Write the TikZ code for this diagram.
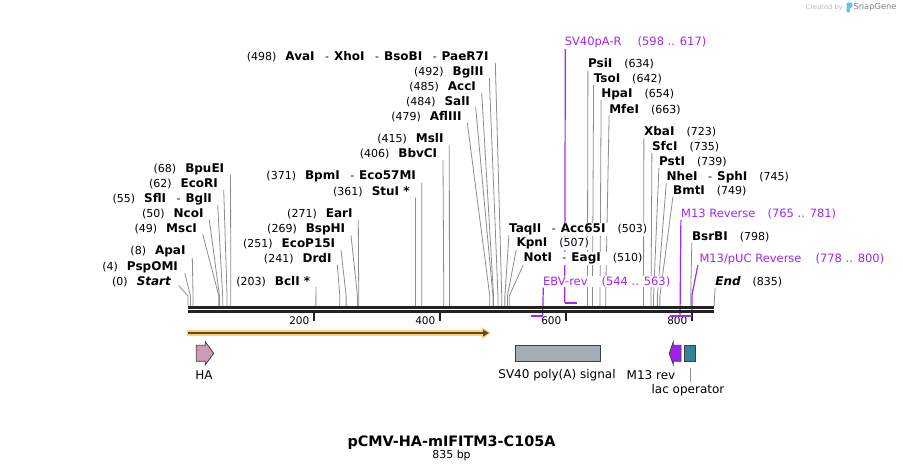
\documentclass[tikz,border=0pt]{standalone}
\usepackage{fontspec}
\setmainfont{DejaVu Sans}
\usetikzlibrary{calc,backgrounds}

\definecolor{sitegray}{RGB}{140,140,140}
\definecolor{backbone}{RGB}{34,34,34}
\definecolor{oligopurple}{RGB}{160,40,240}
\definecolor{hapink}{RGB}{204,155,182}
\definecolor{polyagray}{RGB}{166,172,179}
\definecolor{m13purple}{RGB}{160,32,240}
\definecolor{lacteal}{RGB}{46,132,153}
\definecolor{featedge}{RGB}{64,64,64}
\definecolor{orflight}{RGB}{253,208,125}
\definecolor{orfdark}{RGB}{92,74,46}
\definecolor{credgray}{RGB}{185,185,185}
\definecolor{snapblue}{RGB}{110,190,230}

% enzyme names are set a little larger than the positions
\newcommand{\enz}[1]{{\fontsize{12}{13}\selectfont\bfseries #1}}
\newcommand{\orsep}{\hspace{10.5pt}-\hspace{5pt}}

\begin{document}
\begin{tikzpicture}[x=1pt, y=-1pt, font=\fontsize{11}{13}\selectfont,
    enzl/.style={inner sep=0.6pt, fill=white, anchor=east},
    enzr/.style={inner sep=0.6pt, fill=white, anchor=west},
    cut/.style={draw=sitegray, line width=0.8pt},
    oligo/.style={inner sep=0.6pt, fill=white, anchor=west, text=oligopurple,
      font=\fontsize{11.5}{13}\selectfont},
    oligoline/.style={draw=oligopurple, line width=1.2pt},
    oligobar/.style={draw=oligopurple, line width=2pt},
    feat/.style={draw=featedge, line width=0.8pt},
    featlbl/.style={inner sep=0pt, font=\fontsize{12}{14}\selectfont},
    tick/.style={draw=backbone, line width=1.8pt},
    ticklbl/.style={inner sep=0pt, anchor=east, font=\fontsize{10.5}{12}\selectfont}]

  \useasboundingbox (0,0) rectangle (903,472);

  % ---- enzyme labels, left of their lines
  \node[enzl] (start) at (171.7,281.7) {(0)\hspace{9pt}\enz{\itshape Start}};
  \node[enzl] (pspomi) at (178.7,267) {(4)\hspace{9pt}\enz{PspOMI}};
  \node[enzl] (apai) at (186.3,251.7) {(8)\hspace{9pt}\enz{ApaI}};
  \node[enzl] (msci) at (197.7,229.3) {(49)\hspace{9pt}\enz{MscI}};
  \node[enzl] (ncoi) at (204.3,213.7) {(50)\hspace{9pt}\enz{NcoI}};
  \node[enzl] (sfli) at (212.7,199) {(55)\hspace{9pt}\enz{SflI}\orsep\enz{BglI}};
  \node[enzl] (ecori) at (218.7,183.7) {(62)\hspace{9pt}\enz{EcoRI}};
  \node[enzl] (bpuei) at (225,169) {(68)\hspace{9pt}\enz{BpuEI}};
  \node[enzl] (bcli) at (311,281.7) {(203)\hspace{9pt}\enz{BclI *}};
  \node[enzl] (drdi) at (332.3,258.7) {(241)\hspace{9pt}\enz{DrdI}};
  \node[enzl] (ecop15i) at (336,244) {(251)\hspace{9pt}\enz{EcoP15I}};
  \node[enzl] (bsphi) at (346,229.3) {(269)\hspace{9pt}\enz{BspHI}};
  \node[enzl] (eari) at (353.3,213.7) {(271)\hspace{9pt}\enz{EarI}};
  \node[enzl] (stui) at (410.4,191.7) {(361)\hspace{9pt}\enz{StuI *}};
  \node[enzl] (bpmi) at (416.7,176.7) {(371)\hspace{9pt}\enz{BpmI}\orsep\enz{Eco57MI}};
  \node[enzl] (bbvci) at (438,154) {(406)\hspace{9pt}\enz{BbvCI}};
  \node[enzl] (msli) at (444.3,139) {(415)\hspace{9pt}\enz{MslI}};
  \node[enzl] (afliii) at (462.3,116.7) {(479)\hspace{9pt}\enz{AflIII}};
  \node[enzl] (sali) at (470.7,101.7) {(484)\hspace{9pt}\enz{SalI}};
  \node[enzl] (acci) at (476.7,86.7) {(485)\hspace{9pt}\enz{AccI}};
  \node[enzl] (bglii) at (484.3,72) {(492)\hspace{9pt}\enz{BglII}};
  \node[enzl] (avai) at (489.3,56.7) {(498)\hspace{9pt}\enz{AvaI}\orsep\enz{XhoI}\orsep\enz{BsoBI}\orsep\enz{PaeR7I}};

  % ---- enzyme labels, right of their lines
  \node[enzr] (taqii) at (508.3,229.3) {\enz{TaqII}\orsep\enz{Acc65I}\hspace{12pt}(503)};
  \node[enzr] (kpni) at (515.7,243.3) {\enz{KpnI}\hspace{12pt}(507)};
  \node[enzr] (noti) at (522.7,258.7) {\enz{NotI}\orsep\enz{EagI}\hspace{12pt}(510)};
  \node[enzr] (psii) at (587.3,64) {\enz{PsiI}\hspace{12pt}(634)};
  \node[enzr] (tsoi) at (593,79) {\enz{TsoI}\hspace{12pt}(642)};
  \node[enzr] (hpai) at (600.5,94) {\enz{HpaI}\hspace{12pt}(654)};
  \node[enzr] (mfei) at (608.5,109.3) {\enz{MfeI}\hspace{12pt}(663)};
  \node[enzr] (xbai) at (643.3,132) {\enz{XbaI}\hspace{12pt}(723)};
  \node[enzr] (sfci) at (651.3,146.7) {\enz{SfcI}\hspace{12pt}(735)};
  \node[enzr] (psti) at (658.3,162) {\enz{PstI}\hspace{12pt}(739)};
  \node[enzr] (nhei) at (665.7,176.7) {\enz{NheI}\orsep\enz{SphI}\hspace{12pt}(745)};
  \node[enzr] (bmti) at (672.3,191) {\enz{BmtI}\hspace{12pt}(749)};
  \node[enzr] (bsrbi) at (691.2,236.7) {\enz{BsrBI}\hspace{12pt}(798)};
  \node[enzr] (finish) at (714.5,282) {\enz{\itshape End}\hspace{12pt}(835)};

  % ---- primer labels
  \node[oligo] (sv40par) at (564,42.7) {SV40pA-R\hspace{16pt}(598 .. 617)};
  \node[oligo] (ebvrev) at (542.3,281.7) {EBV-rev\hspace{14pt}(544 .. 563)};
  \node[oligo] (m13r) at (680.3,214) {M13 Reverse\hspace{12pt}(765 .. 781)};
  \node[oligo] (m13puc) at (698.7,259) {M13/pUC Reverse\hspace{14pt}(778 .. 800)};

  % sites on the backbone, x = 188 + 0.63 * bp
  \coordinate (kink) at (0,296);
  \coordinate (b0) at ({188+0.63*0},306);
  \coordinate (b4) at ({188+0.63*4},306);
  \coordinate (b8) at ({188+0.63*8},306);
  \coordinate (b49) at ({188+0.63*49},306);
  \coordinate (b50) at ({188+0.63*50},306);
  \coordinate (b55) at ({188+0.63*55},306);
  \coordinate (b62) at ({188+0.63*62},306);
  \coordinate (b68) at ({188+0.63*68},306);
  \coordinate (b203) at ({188+0.63*203},306);
  \coordinate (b241) at ({188+0.63*241},306);
  \coordinate (b251) at ({188+0.63*251},306);
  \coordinate (b269) at ({188+0.63*269},306);
  \coordinate (b271) at ({188+0.63*271},306);
  \coordinate (b361) at ({188+0.63*361},306);
  \coordinate (b371) at ({188+0.63*371},306);
  \coordinate (b406) at ({188+0.63*406},306);
  \coordinate (b415) at ({188+0.63*415},306);
  \coordinate (b479) at ({188+0.63*479},306);
  \coordinate (b484) at ({188+0.63*484},306);
  \coordinate (b485) at ({188+0.63*485},306);
  \coordinate (b492) at ({188+0.63*492},306);
  \coordinate (b498) at ({188+0.63*498},306);
  \coordinate (b503) at ({188+0.63*503},306);
  \coordinate (b507) at ({188+0.63*507},306);
  \coordinate (b510) at ({188+0.63*510},306);
  \coordinate (b634) at ({188+0.63*634},306);
  \coordinate (b642) at ({188+0.63*642},306);
  \coordinate (b654) at ({188+0.63*654},306);
  \coordinate (b663) at ({188+0.63*663},306);
  \coordinate (b723) at ({188+0.63*723},306);
  \coordinate (b735) at ({188+0.63*735},306);
  \coordinate (b739) at ({188+0.63*739},306);
  \coordinate (b745) at ({188+0.63*745},306);
  \coordinate (b749) at ({188+0.63*749},306);
  \coordinate (b798) at ({188+0.63*798},306);
  \coordinate (b835) at ({188+0.63*835},306);
  \coordinate (p598) at ({188+0.63*598},302.7);
  \coordinate (p617) at ({188+0.63*617},302.7);
  \coordinate (p544) at ({188+0.63*544},315.7);
  \coordinate (p563) at ({188+0.63*563},315.7);
  \coordinate (p765) at ({188+0.63*765},316);
  \coordinate (p781) at ({188+0.63*781},316);
  \coordinate (p778) at ({188+0.63*778},316);
  \coordinate (p800) at ({188+0.63*800},316);

  % lines go behind the labels
  \begin{pgfonlayer}{background}
    \draw[cut] ($(start.east)+(7,4)$) -- (b0 |- kink) -- (b0);
    \draw[cut] ($(pspomi.east)+(6,6)$) -- (b4 |- kink) -- (b4);
    \draw[cut] ($(apai.east)+(6,6)$) -- (b8 |- kink) -- (b8);
    \draw[cut] ($(msci.east)+(5,5)$) -- (b49 |- kink) -- (b49);
    \draw[cut] ($(ncoi.east)+(5,6)$) -- (b50 |- kink) -- (b50);
    \draw[cut] ($(sfli.east)+(5,6)$) -- (b55 |- kink) -- (b55);
    \draw[cut] ($(ecori.east)+(5,6)$) -- (b62 |- kink) -- (b62);
    \draw[cut] ($(bpuei.east)+(5.5,6)$) -- (b68 |- kink) -- (b68);
    \draw[cut] ($(bcli.east)+(5,5)$) -- (b203 |- kink) -- (b203);
    \draw[cut] ($(drdi.east)+(5,6)$) -- (b241 |- kink) -- (b241);
    \draw[cut] ($(ecop15i.east)+(5,6)$) -- (b251 |- kink) -- (b251);
    \draw[cut] ($(bsphi.east)+(5,6)$) -- (b269 |- kink) -- (b269);
    \draw[cut] ($(eari.east)+(5,6)$) -- (b271 |- kink) -- (b271);
    \draw[cut] ($(stui.east)+(5,6)$) -- (b361 |- kink) -- (b361);
    \draw[cut] ($(bpmi.east)+(5,6)$) -- (b371 |- kink) -- (b371);
    \draw[cut] ($(bbvci.east)+(5,6)$) -- (b406 |- kink) -- (b406);
    \draw[cut] ($(msli.east)+(5,6)$) -- (b415 |- kink) -- (b415);
    \draw[cut] ($(afliii.east)+(5,6)$) -- (b479 |- kink) -- (b479);
    \draw[cut] ($(sali.east)+(5,6)$) -- (b484 |- kink) -- (b484);
    \draw[cut] ($(acci.east)+(5,6)$) -- (b485 |- kink) -- (b485);
    \draw[cut] ($(bglii.east)+(5,6)$) -- (b492 |- kink) -- (b492);
    \draw[cut] ($(avai.east)+(6,6)$) -- (b498 |- kink) -- (b498);

    \draw[cut] ($(taqii.west)+(0.6,6)$) -- (b503 |- kink) -- (b503);
    \draw[cut] ($(kpni.west)+(0.6,6)$) -- (b507 |- kink) -- (b507);
    \draw[cut] ($(noti.west)+(0.6,6)$) -- (b510 |- kink) -- (b510);
    \draw[cut] ($(psii.west)+(0.6,6)$) -- (b634 |- kink) -- (b634);
    \draw[cut] ($(tsoi.west)+(0.6,6)$) -- (b642 |- kink) -- (b642);
    \draw[cut] ($(hpai.west)+(0.6,6)$) -- (b654 |- kink) -- (b654);
    \draw[cut] ($(mfei.west)+(0.6,6)$) -- (b663 |- kink) -- (b663);
    \draw[cut] ($(xbai.west)+(0.6,6)$) -- (b723 |- kink) -- (b723);
    \draw[cut] ($(sfci.west)+(0.6,6)$) -- (b735 |- kink) -- (b735);
    \draw[cut] ($(psti.west)+(0.6,6)$) -- (b739 |- kink) -- (b739);
    \draw[cut] ($(nhei.west)+(0.6,6)$) -- (b745 |- kink) -- (b745);
    \draw[cut] ($(bmti.west)+(0.6,6)$) -- (b749 |- kink) -- (b749);
    \draw[cut] ($(bsrbi.west)+(0.6,6)$) -- (b798 |- kink) -- (b798);
    \draw[cut] ($(finish.west)+(0.6,6)$) -- (b835);

    \draw[oligoline] ($(sv40par.west)+(1.3,6)$) -- (p598);
    \draw[oligoline] ($(ebvrev.west)+(1,6)$) -- (p563);
    \draw[oligoline] ($(m13r.west)+(0.6,6)$) -- (p781);
    \draw[oligoline] ($(m13puc.west)+(-0.8,6)$) -- (p800 |- 0,295) -- (p800);
  \end{pgfonlayer}

  % primer bars
  \draw[oligobar] (p598) -- (p617);
  \draw[oligobar] (p544) -- (p563);

  % ---- backbone (double strand)
  \coordinate (seqa) at (188,307.2);
  \coordinate (seqb) at (714,307.2);
  \draw[draw=backbone, line width=3pt] (seqa) -- (seqb);
  \draw[draw=backbone, line width=2.6pt] ([yshift=-4.2pt]seqa) -- ([yshift=-4.2pt]seqb);

  % ruler
  \draw[tick] (314,313) -- (314,321);
  \node[ticklbl] (t200) at (309.5,320.5) {200};
  \draw[tick] (440,313) -- (440,321);
  \node[ticklbl] (t400) at (435.5,320.5) {400};
  \draw[tick] (566,313) -- (566,321);
  \node[ticklbl] (t600) at (561.5,320.5) {600};
  \draw[tick] (692,313) -- (692,321);
  \node[ticklbl] (t800) at (687.5,320.5) {800};
  \draw[oligobar] (p765) -- (p781);
  \draw[oligobar] (p778) -- (p800);

  % ---- features
  \fill[orflight] (187,330.2) rectangle (484,335.8);
  \fill[orflight] (482,327) -- (491,333) -- (482,339) -- cycle;
  \draw[draw=orfdark, line width=1.8pt] (188,333) -- (484,333);
  \fill[orfdark] (483,329.5) -- (488.8,333) -- (483,336.5) -- cycle;

  \draw[feat, fill=hapink] (196.3,345.3) -- (205.3,345.3) -- (205.3,341.8) -- (213.7,353.3)
    -- (205.3,364.8) -- (205.3,361.3) -- (196.3,361.3) -- cycle;
  \node[featlbl] (ha) at (204,375) {HA};

  \draw[feat, fill=polyagray] (515,345.3) rectangle (600,361.3);
  \node[featlbl] (polya) at (557,375) {SV40 poly(A) signal};

  \draw[feat, fill=m13purple] (681,345.3) -- (673.3,345.3) -- (673.3,341.8) -- (669.3,353.3)
    -- (673.3,364.8) -- (673.3,361.3) -- (681,361.3) -- cycle;
  \node[featlbl] (m13rev) at (651,375) {M13 rev};

  \node[feat, fill=lacteal, inner sep=0pt, minimum width=11.4pt, minimum height=16pt] (lacop) at (690,353.3) {};
  \node[featlbl] (laclbl) at (688,390) {lac operator};
  \draw[cut] ([yshift=-6.5pt]lacop.south) -- ([yshift=2pt]laclbl.north -| lacop.south);

  % ---- title
  \node[inner sep=0pt, font=\fontsize{14.4}{17}\selectfont\bfseries] (title) at (451.5,442.3) {pCMV-HA-mIFITM3-C105A};
  \node[inner sep=0pt, font=\fontsize{11}{13}\selectfont] (size) at (451.5,455.5) {835 bp};

  % credit
  \node[inner sep=0pt, anchor=east, text=credgray, font=\fontsize{6.7}{8}\selectfont] (createdby) at (843,7.5) {Created by};
  \fill[snapblue, rounded corners=1pt] (846.5,2.5) rectangle (849.8,12.5);
  \fill[snapblue, rounded corners=1.5pt] (847,2.5) rectangle (852.3,8);
  \node[inner sep=0pt, anchor=west, text=gray, font=\fontsize{8.3}{10}\selectfont] (snapgene) at (853.5,7.5) {SnapGene};

\end{tikzpicture}
\end{document}
